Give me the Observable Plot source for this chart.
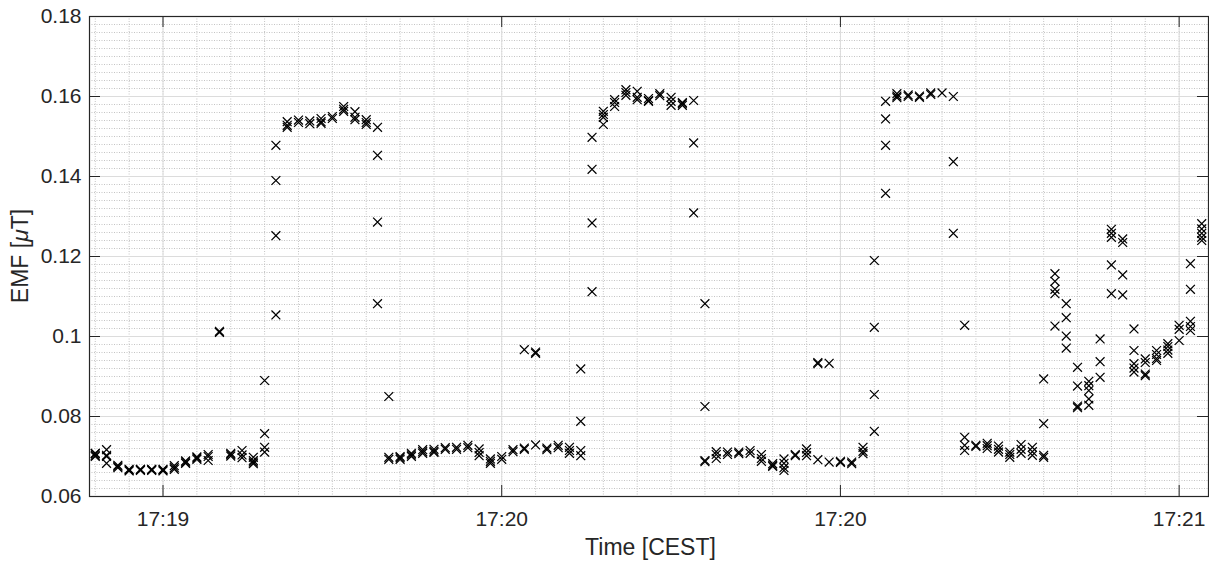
<!DOCTYPE html>
<html><head><meta charset="utf-8">
<script src="https://cdn.jsdelivr.net/npm/d3@7"></script>
<script src="https://cdn.jsdelivr.net/npm/@observablehq/plot@0.6"></script>
<style>body{margin:0;background:#fff;overflow:hidden}</style>
</head><body><div id="chart"></div>
<script>
// seconds after 17:19:00 CEST
const seconds = d3.range(24, 123);
const emf = [
 [0.0707,0.0703,0.0700,0.0708],[0.0717,0.0703,0.0700,0.0683],[0.0678,0.0675,0.0672],[0.0668,0.0666,0.0664],
 [0.0667,0.0665,0.0668],[0.0667,0.0665,0.0668],[0.0666,0.0664,0.0668],[0.0677,0.0672,0.0668],
 [0.0686,0.0683,0.0689],[0.0696,0.0693,0.0699],[0.0705,0.0700,0.0690],[0.1010,0.1013],
 [0.0708,0.0705,0.0701],[0.0715,0.0704,0.0697],[0.0698,0.0690,0.0686,0.0682],[0.0890,0.0757,0.0723,0.0711],
 [0.1478,0.1390,0.1252,0.1054],[0.1537,0.1528,0.1523],[0.1541,0.1535],[0.1539,0.1532],
 [0.1545,0.1537,0.1533],[0.1550,0.1545],[0.1575,0.1568,0.1563],[0.1562,0.1548,0.1542],
 [0.1542,0.1535,0.1530],[0.1523,0.1453,0.1286,0.1082],[0.0850,0.0698,0.0693],[0.0700,0.0697,0.0693],
 [0.0708,0.0704,0.0700],[0.0717,0.0712,0.0708],[0.0718,0.0713,0.0710],[0.0722,0.0718],
 [0.0723,0.0718],[0.0728,0.0722],[0.0719,0.0710,0.0702],[0.0694,0.0688,0.0683],
 [0.0700,0.0693],[0.0717,0.0712],[0.0967,0.0721,0.0718],[0.0961,0.0958,0.0729],
 [0.0721,0.0717],[0.0728,0.0722],[0.0723,0.0715,0.0708],[0.0919,0.0788,0.0715,0.0702],
 [0.1498,0.1418,0.1284,0.1112],[0.1563,0.1555,0.1548,0.1530],[0.1592,0.1585,0.1575],[0.1617,0.1610,0.1603],
 [0.1613,0.1598,0.1592],[0.1595,0.1590,0.1588],[0.1607,0.1602],[0.1598,0.1588,0.1578],
 [0.1585,0.1582,0.1578],[0.1590,0.1484,0.1309],[0.1082,0.0825,0.0690,0.0687],[0.0712,0.0705,0.0695],
 [0.0711,0.0705],[0.0711,0.0707],[0.0715,0.0708],[0.0705,0.0695,0.0688],
 [0.0682,0.0678,0.0675],[0.0694,0.0683,0.0672,0.0665],[0.0705,0.0702],[0.0719,0.0710,0.0702],
 [0.0935,0.0932,0.0692],[0.0933,0.0686],[0.0688,0.0685],[0.0686,0.0682],
 [0.0723,0.0713,0.0707],[0.1190,0.1023,0.0855,0.0763],[0.1588,0.1544,0.1478,0.1358],[0.1607,0.1601,0.1597],
 [0.1604,0.1600],[0.1601,0.1598],[0.1609,0.1605],[0.1609],
 [0.1600,0.1437,0.1258],[0.1028,0.0748,0.0728,0.0715],[0.0728,0.0725],[0.0733,0.0727,0.0720],
 [0.0726,0.0718,0.0711],[0.0711,0.0705,0.0698],[0.0730,0.0718,0.0708],[0.0723,0.0712,0.0703],
 [0.0894,0.0782,0.0703,0.0698],[0.1157,0.1138,0.1118,0.1107,0.1026],[0.1082,0.1047,0.1001,0.0971],[0.0923,0.0876,0.0826,0.0822],
 [0.0888,0.0877,0.0865,0.0844,0.0828],[0.0994,0.0937,0.0898],[0.1268,0.1258,0.1248,0.1179,0.1107],[0.1244,0.1235,0.1154,0.1104],
 [0.1019,0.0965,0.0932,0.0921,0.0911],[0.0944,0.0935,0.0906,0.0902],[0.0965,0.0955,0.0945,0.0940],[0.0982,0.0975,0.0966,0.0958],
 [0.1028,0.1018,0.0990],[0.1182,0.1118,0.1038,0.1025,0.1015],[0.1282,0.1269,0.1258,0.1248,0.1240]
];
const xTickSeconds = [30, 60, 90, 120];
const yTicks = [0.06, 0.08, 0.1, 0.12, 0.14, 0.16, 0.18];
const yTickLabels = ["0.06", "0.08", "0.1", "0.12", "0.14", "0.16", "0.18"];
const xLabel = "Time [CEST]";
const yLabelParts = ["EMF [", "\u03bc", "T]"];

const base = Date.UTC(2021, 5, 1, 17, 19, 0);
const toDate = s => new Date(base + s * 1000);
const data = seconds.flatMap((s, i) => emf[i].map(v => ({time: toDate(s), emf: v})));
const xTicks = xTickSeconds.map(toDate);
const xDomain = [toDate(23.49), toDate(122.6)];
const xMinor = d3.utcSecond.every(3).range(xDomain[0], xDomain[1]);
const yMinor = d3.range(0, 61).map(i => 0.06 + i * 0.002);

const W = 1209, H = 561, mL = 89, mR = 1, mT = 16, mB = 65;
const innerW = W - mL - mR, innerH = H - mT - mB;
const axisColor = "#262626";
const tickLen = 11;

const svg = Plot.plot({
  width: W, height: H,
  marginLeft: mL, marginRight: mR, marginTop: mT, marginBottom: mB,
  style: {fontFamily: "'Liberation Sans', Arial, sans-serif", fontSize: "21px", color: axisColor, background: "#fff"},
  x: {type: "utc", domain: xDomain},
  y: {domain: [0.06, 0.18]},
  marks: [
    Plot.ruleY(yMinor, {stroke: "#c4c4c4", strokeDasharray: "1,1.5", strokeWidth: 1}),
    Plot.ruleX(xMinor, {stroke: "#c4c4c4", strokeDasharray: "1,1.5", strokeWidth: 1}),
    Plot.ruleY(yTicks, {stroke: "#dcdcdc", strokeWidth: 1}),
    Plot.ruleX(xTicks, {stroke: "#dcdcdc", strokeWidth: 1}),
    Plot.dot(data, {x: "time", y: "emf", symbol: "times", r: 4.1, stroke: "#000", strokeWidth: 1.25}),
    Plot.ruleX(xTicks, {insetTop: innerH - tickLen, stroke: axisColor}),
    Plot.ruleX(xTicks, {insetBottom: innerH - tickLen, stroke: axisColor}),
    Plot.ruleY(yTicks, {insetRight: innerW - tickLen, stroke: axisColor}),
    Plot.ruleY(yTicks, {insetLeft: innerW - tickLen, stroke: axisColor}),
    Plot.frame({stroke: axisColor, strokeWidth: 1.2}),
    Plot.axisX({ticks: xTicks, tickFormat: d3.utcFormat("%H:%M"), tickSize: 0, tickPadding: 15, label: null}),
    Plot.axisY({ticks: yTicks, tickFormat: (d, i) => yTickLabels[yTicks.indexOf(d)], tickSize: 0, tickPadding: 8, label: null})
  ]
});

const s = d3.select(svg);
s.append("text")
  .attr("x", mL + innerW / 2 + 2).attr("y", 555)
  .attr("text-anchor", "middle").attr("font-size", 23).attr("fill", axisColor)
  .text(xLabel);
const yl = s.append("text")
  .attr("transform", `translate(28,${mT + innerH / 2}) rotate(-90)`)
  .attr("text-anchor", "middle").attr("font-size", 23).attr("fill", axisColor);
yl.append("tspan").text(yLabelParts[0]);
yl.append("tspan").attr("font-style", "italic").text(yLabelParts[1]);
yl.append("tspan").text(yLabelParts[2]);

document.getElementById("chart").appendChild(svg);
</script>
</body></html>
